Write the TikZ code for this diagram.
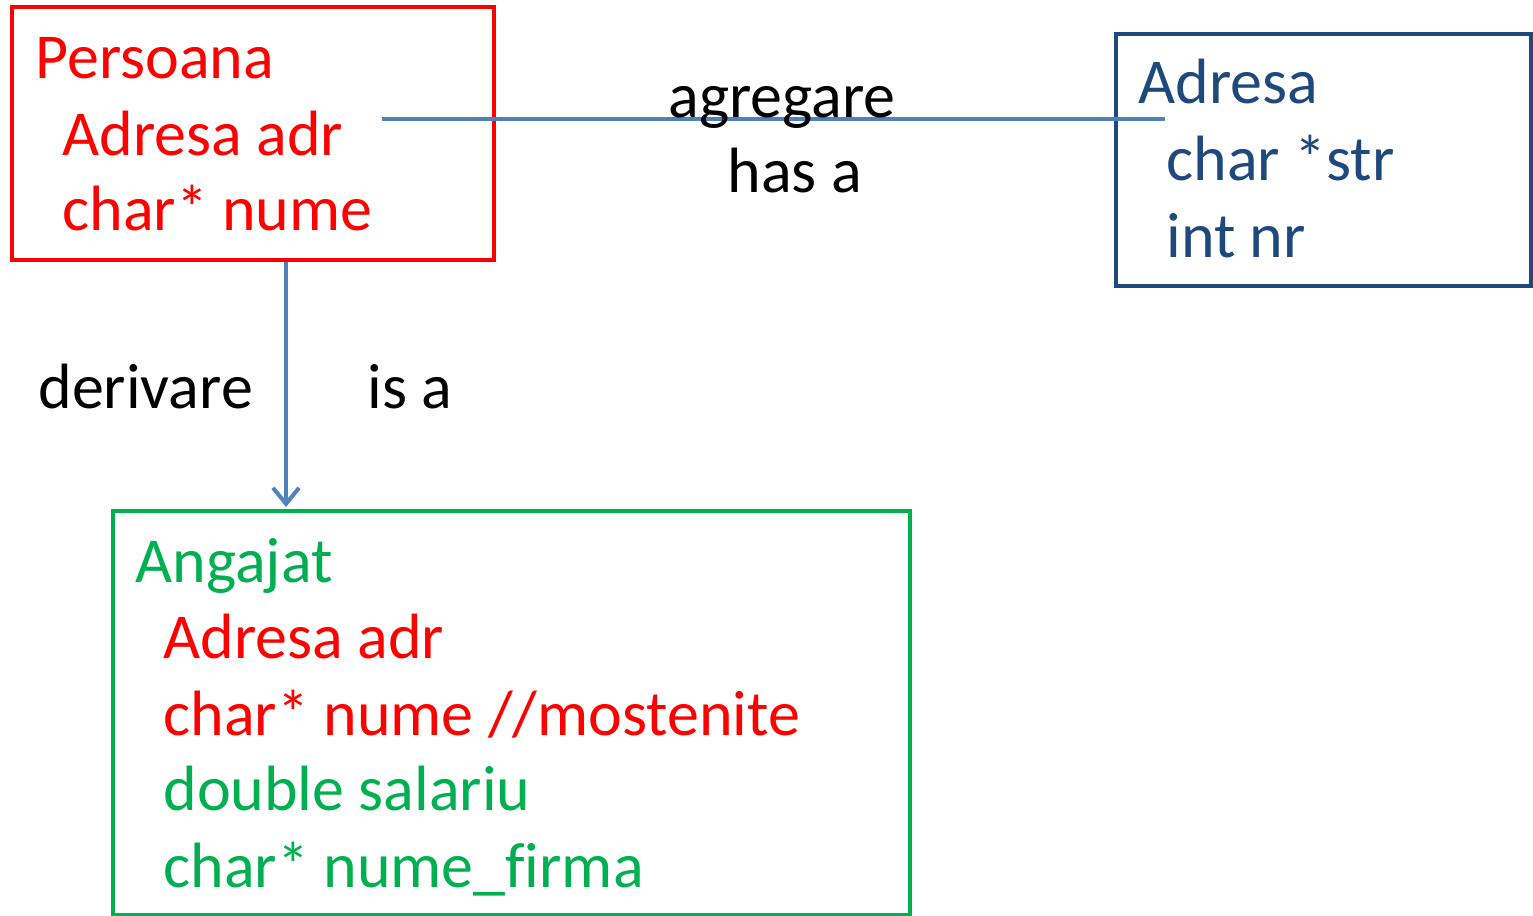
\documentclass[tikz,border=0pt]{standalone}
\usepackage{fontspec}
\setmainfont[Ligatures=NoCommon]{Carlito}
\usetikzlibrary{fit,arrows.meta}
\definecolor{persred}{HTML}{FF0000}
\definecolor{adrblue}{HTML}{1F497D}
\definecolor{angreen}{HTML}{00B050}
\definecolor{linkblue}{HTML}{4F81BD}

\begin{document}
\begin{tikzpicture}[ x=0.5pt, y=-0.5pt, >={Straight Barb[length=8pt,width=13pt]},
    member/.style={ anchor=base west, inner sep=0pt,
    font=\fontsize{32}{38}\selectfont }, classbox/.style={ draw,
    line width=2pt, inner sep=0pt }, relation/.style={ draw=linkblue,
    line width=2pt } ]
  \useasboundingbox (0,0) rectangle (1533,916);
  % class boxes
  \coordinate (p1) at (12,7);    \coordinate (p2) at (494,260);
  \coordinate (a1) at (1116,34); \coordinate (a2) at (1531,286);
  \coordinate (g1) at (113,511); \coordinate (g2) at (910,915);
  \node[classbox, draw=persred, fit=(p1) (p2)] (persoana) {};
  \node[classbox, draw=adrblue, fit=(a1) (a2)] (adresa) {};
  \node[classbox, draw=angreen, fit=(g1) (g2)] (angajat) {};
  % members
  \foreach \y/\x/\c/\l in {78/35/persred/Persoana,155/62/persred/Adresa adr,
    230/62/persred/char* nume}
  \node[member, text=\c] (p\y) at (\x,\y) {\l};
  \foreach \y/\x/\l in {103/1138/Adresa,180/1166/char *str,257/1166/int nr}
  \node[member, text=adrblue] (a\y) at (\x,\y) {\l};
  \foreach \y/\x/\c/\l in {582/135/angreen/Angajat,658/163/persred/Adresa adr,
    735/163/persred/{char* nume //mostenite},810/163/angreen/double salariu,
    887/163/angreen/char* nume\_firma}
  \node[member, text=\c] (g\y) at (\x,\y) {\l};
  % relations
  \coordinate (aggL) at (382,119); \coordinate (aggR) at (1165,119);
  \coordinate (isaX) at (286,0);
  \draw[relation] (aggL) -- (aggR);
  \draw[relation, ->, shorten >=1pt] (persoana.south -| isaX) -- (angajat.north -| isaX);
  \node[member] (agg) at (668,117) {agregare};
  \node[member] (hasa) at (727,192) {has a};
  \node[member] (deriv) at (38,408) {derivare};
  \node[member] (isa) at (367,408) {is a};
\end{tikzpicture}
\end{document}
